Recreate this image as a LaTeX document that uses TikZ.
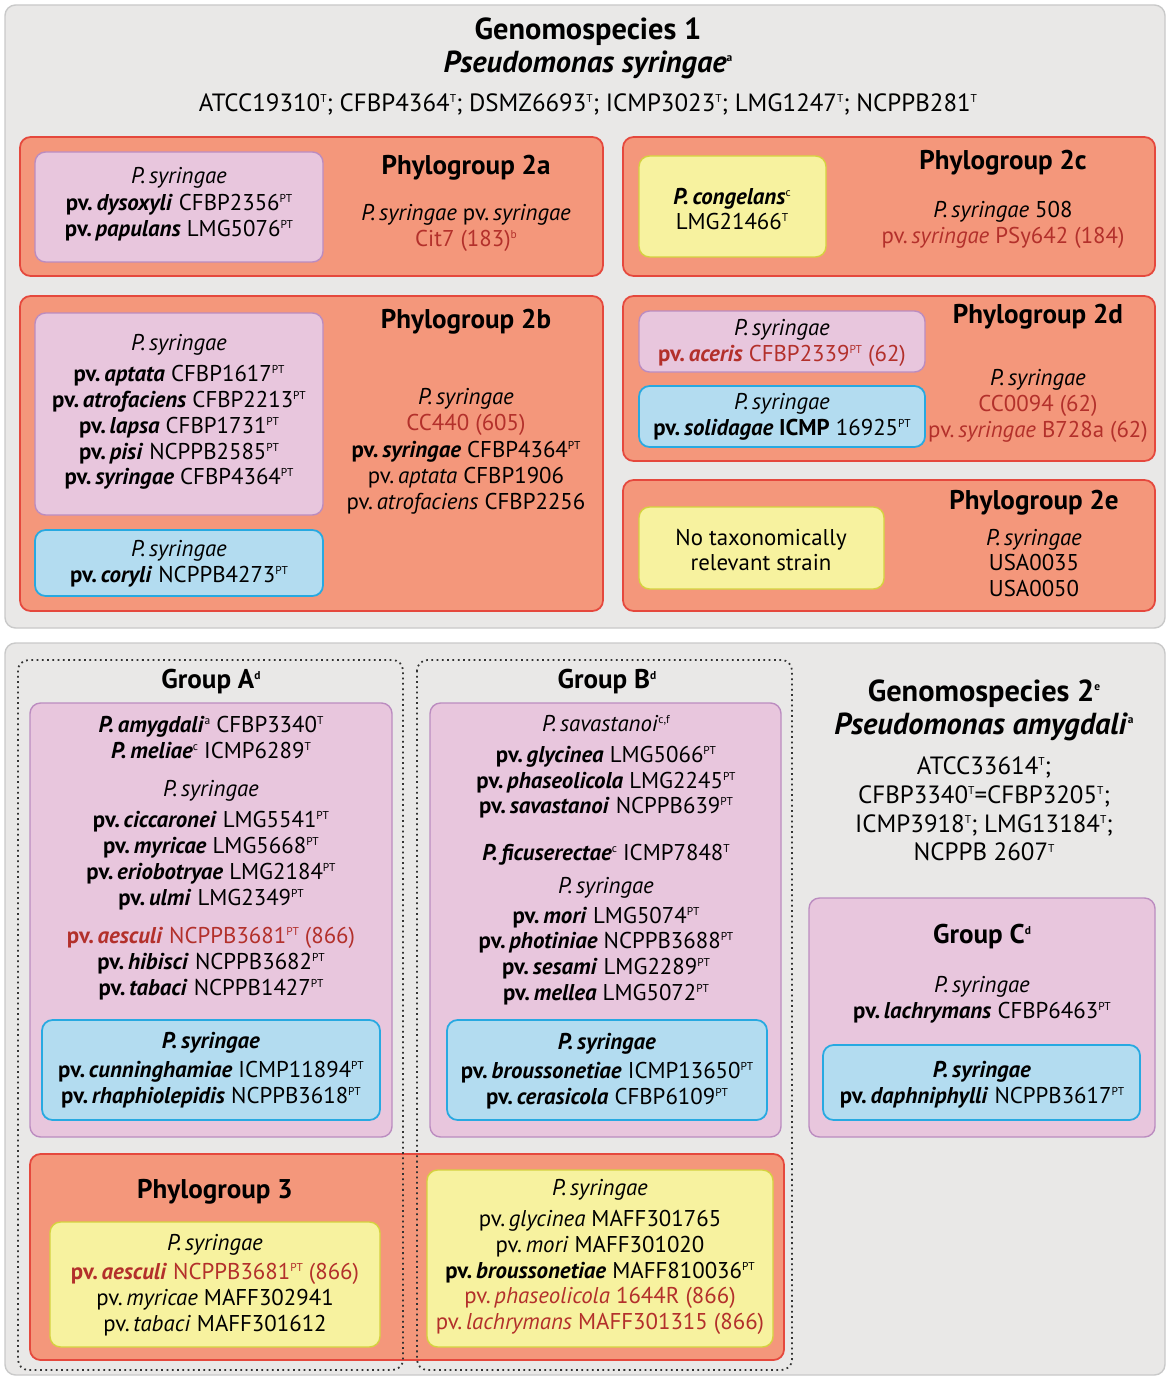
\documentclass[tikz,border=0pt]{standalone}
\usepackage{fontspec}
\setmainfont{PT Sans}
\usetikzlibrary{positioning}
\definecolor{gsgray}{HTML}{E9E8E7}
\definecolor{gsedge}{HTML}{C9C9C9}
\definecolor{pgfill}{HTML}{F4977B}
\definecolor{pgedge}{HTML}{E5483D}
\definecolor{pkfill}{HTML}{E8C6DD}
\definecolor{pkedge}{HTML}{BB8CC0}
\definecolor{blfill}{HTML}{B3DCF0}
\definecolor{bledge}{HTML}{27A9E1}
\definecolor{ylfill}{HTML}{F7F29F}
\definecolor{yledge}{HTML}{D5D23F}
\definecolor{strred}{HTML}{B3302B}
\newcommand{\ssup}[1]{\raisebox{0.7ex}{\fontsize{6.5}{6.5}\selectfont #1}}
\newcommand{\pvb}[2]{\textbf{pv.\,\textit{#1}} #2}
\newcommand{\pvn}[2]{pv.\,\textit{#1} #2}
\newcommand{\psy}{\textit{P.\,syringae}}
\newcommand{\rd}[1]{{\color{strred}#1}}

\begin{document}
\begin{tikzpicture}[x=0.02cm, y=-0.02cm,
  gsbox/.style={draw=gsedge, fill=gsgray, rounded corners=6pt, line width=0.8pt},
  pgbox/.style={draw=pgedge, fill=pgfill, rounded corners=6pt, line width=1pt},
  pkbox/.style={draw=pkedge, fill=pkfill, rounded corners=6pt, line width=0.8pt},
  blbox/.style={draw=bledge, fill=blfill, rounded corners=6pt, line width=1pt},
  ylbox/.style={draw=yledge, fill=ylfill, rounded corners=6pt, line width=0.8pt},
  grpbox/.style={draw=black!80, dotted, line width=1pt, rounded corners=6pt},
  txt/.style={align=center, inner sep=0pt, font=\fontsize{13}{14.7}\selectfont},
  strains/.style={align=center, inner sep=0pt, font=\fontsize{14.2}{16.4}\selectfont},
  pgtitle/.style={inner sep=0pt, font=\fontsize{15.4}{17}\selectfont\bfseries},
  gstitle/.style={align=center, inner sep=0pt, font=\fontsize{17.3}{18.7}\selectfont\bfseries}]
  \useasboundingbox (0,0) rectangle (1168,1378);

  % Genomospecies 1
  \draw[gsbox] (5,5) rectangle (1165,628);
  \node[gstitle] (gs1) at (588,48) {Genomospecies 1\\\textit{Pseudomonas syringae}\ssup{a}};
  \node[strains] (gs1t) at (588,104) {ATCC19310\ssup{T}; CFBP4364\ssup{T}; DSMZ6693\ssup{T}; ICMP3023\ssup{T}; LMG1247\ssup{T}; NCPPB281\ssup{T}};

  \draw[pgbox] (20,137) rectangle (603,276);
  \draw[pkbox] (35,152) rectangle (323,262);
  \node[txt] (pg2aL) at (179,204) {\psy\\[1pt]\pvb{dysoxyli}{CFBP2356\ssup{PT}}\\\pvb{papulans}{LMG5076\ssup{PT}}};
  \node[pgtitle] (pg2a) at (466,168) {Phylogroup 2a};
  \node[txt] (pg2aR) at (466,228) {\psy{} pv.\,\textit{syringae}\\\rd{Cit7 (183)\ssup{b}}};

  \draw[pgbox] (623,137) rectangle (1155,276);
  \draw[ylbox] (639,156) rectangle (826,257);
  \node[txt] (pg2cL) at (732,209) {\textbf{\textit{P.\,congelans}}\ssup{c}\\LMG21466\ssup{T}};
  \node[pgtitle] (pg2c) at (1003,163) {Phylogroup 2c};
  \node[txt] (pg2cR) at (1003,225) {\psy{} 508\\\rd{\pvn{syringae}{PSy642 (184)}}};

  \draw[pgbox] (20,296) rectangle (603,611);
  \draw[pkbox] (35,313) rectangle (323,515);
  \draw[blbox] (35,530) rectangle (323,596);
  \node[txt] (pg2bL) at (179,412) {\psy\\[3pt]\pvb{aptata}{CFBP1617\ssup{PT}}\\\pvb{atrofaciens}{CFBP2213\ssup{PT}}\\\pvb{lapsa}{CFBP1731\ssup{PT}}\\\pvb{pisi}{NCPPB2585\ssup{PT}}\\\pvb{syringae}{CFBP4364\ssup{PT}}};
  \node[txt] (pg2bB) at (179,564) {\psy\\\pvb{coryli}{NCPPB4273\ssup{PT}}};
  \node[pgtitle] (pg2b) at (466,322) {Phylogroup 2b};
  \node[txt] (pg2bR) at (466,451) {\psy\\\rd{CC440 (605)}\\[1pt]\pvb{syringae}{CFBP4364\ssup{PT}}\\\pvn{aptata}{CFBP1906}\\\pvn{atrofaciens}{CFBP2256}};

  \draw[pgbox] (623,296) rectangle (1155,461);
  \draw[pkbox] (639,311) rectangle (925,372);
  \draw[blbox] (639,386) rectangle (925,447);
  \node[txt] (pg2dP) at (782,343) {\psy\\\rd{\pvb{aceris}{CFBP2339\ssup{PT} (62)}}};
  \node[txt] (pg2dB) at (782,417) {\psy\\\textbf{pv.\,\textit{solidagae} ICMP} 16925\ssup{PT}};
  \node[pgtitle] (pg2d) at (1038,317) {Phylogroup 2d};
  \node[txt] (pg2dR) at (1038,406) {\psy\\\rd{CC0094 (62)}\\\rd{\pvn{syringae}{B728a (62)}}};

  \draw[pgbox] (623,480) rectangle (1155,611);
  \draw[ylbox] (639,507) rectangle (884,589);
  \node[txt] (pg2eL) at (761,550) {No taxonomically\\relevant strain};
  \node[pgtitle] (pg2e) at (1034,503) {Phylogroup 2e};
  \node[txt] (pg2eR) at (1034,563) {\psy\\USA0035\\USA0050};

  % Genomospecies 2
  \draw[gsbox] (5,643) rectangle (1165,1375);
  \draw[pkbox] (30,703) rectangle (392,1137);
  \draw[blbox] (42,1020) rectangle (380,1120);
  \node[pgtitle] (grA) at (211,682) {Group A\ssup{d}};
  \node[txt] (grAP) at (211,858) {\textbf{\textit{P.\,amygdali}}\ssup{a} CFBP3340\ssup{T}\\\textbf{\textit{P.\,meliae}}\ssup{c} ICMP6289\ssup{T}\\[7pt]\psy\\[3pt]\pvb{ciccaronei}{LMG5541\ssup{PT}}\\\pvb{myricae}{LMG5668\ssup{PT}}\\\pvb{eriobotryae}{LMG2184\ssup{PT}}\\\pvb{ulmi}{LMG2349\ssup{PT}}\\[7pt]\rd{\pvb{aesculi}{NCPPB3681\ssup{PT} (866)}}\\\pvb{hibisci}{NCPPB3682\ssup{PT}}\\\pvb{tabaci}{NCPPB1427\ssup{PT}}};
  \node[txt] (grAB) at (211,1070) {\textbf{\textit{P.\,syringae}}\\[2pt]\pvb{cunninghamiae}{ICMP11894\ssup{PT}}\\\pvb{rhaphiolepidis}{NCPPB3618\ssup{PT}}};

  \draw[pkbox] (430,703) rectangle (781,1137);
  \draw[blbox] (447,1020) rectangle (767,1120);
  \node[pgtitle] (grB) at (607,682) {Group B\ssup{d}};
  \node[txt] (grBP) at (606,860) {\textit{P.\,savastanoi}\ssup{c,f}\\[3pt]\pvb{glycinea}{LMG5066\ssup{PT}}\\\pvb{phaseolicola}{LMG2245\ssup{PT}}\\\pvb{savastanoi}{NCPPB639\ssup{PT}}\\[12pt]\textbf{\textit{P.\,ficuserectae}}\ssup{c} ICMP7848\ssup{T}\\[4pt]\psy\\[2pt]\pvb{mori}{LMG5074\ssup{PT}}\\\pvb{photiniae}{NCPPB3688\ssup{PT}}\\\pvb{sesami}{LMG2289\ssup{PT}}\\\pvb{mellea}{LMG5072\ssup{PT}}};
  \node[txt] (grBB) at (607,1071) {\textbf{\textit{P.\,syringae}}\\[2pt]\pvb{broussonetiae}{ICMP13650\ssup{PT}}\\\pvb{cerasicola}{CFBP6109\ssup{PT}}};

  \draw[pgbox] (30,1154) rectangle (784,1360);
  \draw[ylbox] (50,1222) rectangle (380,1347);
  \draw[ylbox] (427,1170) rectangle (773,1347);
  \node[pgtitle] (pg3) at (215,1192) {Phylogroup 3};
  \node[txt] (pg3L) at (215,1285) {\psy\\[2pt]\rd{\pvb{aesculi}{NCPPB3681\ssup{PT} (866)}}\\\pvn{myricae}{MAFF302941}\\\pvn{tabaci}{MAFF301612}};
  \node[txt] (pg3R) at (600,1257) {\psy\\[3pt]\pvn{glycinea}{MAFF301765}\\\pvn{mori}{MAFF301020}\\\pvb{broussonetiae}{MAFF810036\ssup{PT}}\\\rd{\pvn{phaseolicola}{1644R (866)}}\\\rd{\pvn{lachrymans}{MAFF301315 (866)}}};

  \draw[grpbox] (18,660) rectangle (403,1370);
  \draw[grpbox] (417,660) rectangle (792,1370);

  \node[gstitle] (gs2) at (984,710) {Genomospecies 2\ssup{e}\\\textit{Pseudomonas amygdali}\ssup{a}};
  \node[strains] (gs2t) at (984,809) {ATCC33614\ssup{T};\\CFBP3340\ssup{T}=CFBP3205\ssup{T};\\ICMP3918\ssup{T}; LMG13184\ssup{T};\\NCPPB 2607\ssup{T}};

  \draw[pkbox] (809,898) rectangle (1155,1137);
  \draw[blbox] (823,1045) rectangle (1140,1120);
  \node[pgtitle] (grC) at (982,937) {Group C\ssup{d}};
  \node[txt] (grCP) at (982,1000) {\psy\\\pvb{lachrymans}{CFBP6463\ssup{PT}}};
  \node[txt] (grCB) at (982,1085) {\textbf{\textit{P.\,syringae}}\\\pvb{daphniphylli}{NCPPB3617\ssup{PT}}};
\end{tikzpicture}
\end{document}
